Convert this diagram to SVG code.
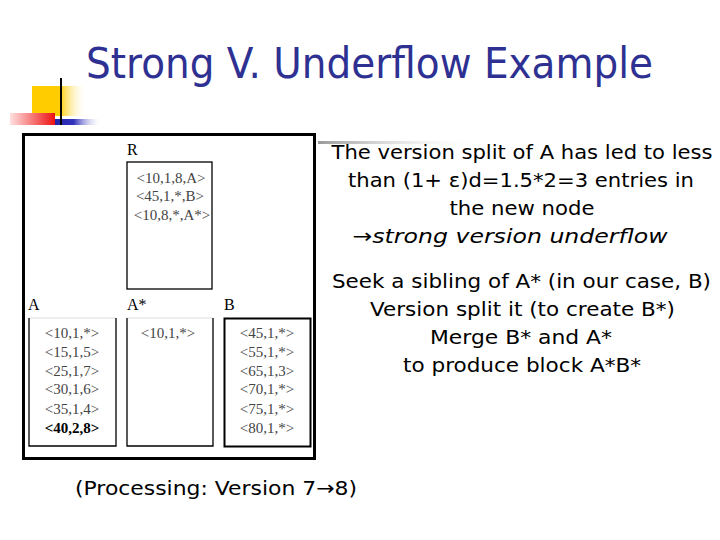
<svg xmlns="http://www.w3.org/2000/svg" width="720" height="540" viewBox="0 0 720 540">
<defs>
  <linearGradient id="gYellow" x1="0" y1="0" x2="1" y2="0">
    <stop offset="0" stop-color="#FFCC00"/>
    <stop offset="0.5" stop-color="#FFCC00"/>
    <stop offset="1" stop-color="#FFFFFF" stop-opacity="0"/>
  </linearGradient>
  <linearGradient id="gRed" x1="0" y1="0" x2="1" y2="0">
    <stop offset="0" stop-color="#FFE0E0"/>
    <stop offset="1" stop-color="#EE1111"/>
  </linearGradient>
  <linearGradient id="gBlue" x1="0" y1="0" x2="1" y2="0">
    <stop offset="0" stop-color="#2222AA"/>
    <stop offset="0.4" stop-color="#3333BB"/>
    <stop offset="1" stop-color="#FFFFFF" stop-opacity="0"/>
  </linearGradient>
  <linearGradient id="gGray" x1="0" y1="0" x2="1" y2="0">
    <stop offset="0" stop-color="#999999"/>
    <stop offset="1" stop-color="#FFFFFF" stop-opacity="0"/>
  </linearGradient>
</defs>
<style>
  .title { font-family: "DejaVu Sans", "Liberation Sans", sans-serif; font-size: 42px; fill: #2E3192; }
  .body { font-family: "DejaVu Sans", "Liberation Sans", sans-serif; font-size: 20px; fill: #000; text-anchor: middle; }
  .ital { font-style: italic; }
  .lbl { font-family: "Liberation Serif", "DejaVu Serif", serif; font-size: 16px; fill: #000; }
  .ent { font-family: "Liberation Serif", "DejaVu Serif", serif; font-size: 15px; fill: #444; text-anchor: middle; }
  .entb { font-weight: bold; fill: #000; }
  .box { fill: none; stroke: #000; stroke-width: 1.3; }
</style>
<rect width="720" height="540" fill="#FFFFFF"/>

<!-- decoration -->
<g id="decoration">
  <rect x="32" y="86" width="55" height="30" fill="url(#gYellow)"/>
  <rect x="10" y="113" width="45" height="12" fill="url(#gRed)"/>
  <rect x="55" y="119" width="47" height="6" fill="url(#gBlue)"/>
  <line x1="61" y1="78" x2="61" y2="125" stroke="#000" stroke-width="2"/>
  <rect x="318" y="141" width="165" height="3" fill="url(#gGray)"/>
</g>

<text class="title" x="86" y="78" textLength="567" lengthAdjust="spacingAndGlyphs">Strong V. Underflow Example</text>

<!-- figure frame -->
<g id="frame">
  <rect x="23.5" y="134.5" width="291" height="324" fill="#FFFFFF" stroke="#000" stroke-width="3"/>
</g>

<g id="node-R">
  <text class="lbl" x="127" y="155">R</text>
  <rect class="box" x="127" y="162" width="85" height="127"/>
  <text class="ent" x="171" y="183">&lt;10,1,8,A&gt;</text>
  <text class="ent" x="170" y="201">&lt;45,1,*,B&gt;</text>
  <text class="ent" x="172" y="220">&lt;10,8,*,A*&gt;</text>
</g>

<g id="node-A">
  <text class="lbl" x="28" y="310">A</text>
  <line x1="29" y1="318" x2="116" y2="318" stroke="#DDDDDD" stroke-width="1"/>
  <path class="box" d="M29,318 V446 H116 V318"/>
  <text class="ent" x="72" y="338">&lt;10,1,*&gt;</text>
  <text class="ent" x="72" y="357">&lt;15,1,5&gt;</text>
  <text class="ent" x="72" y="376">&lt;25,1,7&gt;</text>
  <text class="ent" x="72" y="394">&lt;30,1,6&gt;</text>
  <text class="ent" x="72" y="414">&lt;35,1,4&gt;</text>
  <text class="ent entb" x="72" y="433">&lt;40,2,8&gt;</text>
</g>

<g id="node-Astar">
  <text class="lbl" x="127" y="310">A*</text>
  <line x1="127" y1="318" x2="213" y2="318" stroke="#DDDDDD" stroke-width="1"/>
  <path class="box" d="M127,318 V446 H213 V318"/>
  <text class="ent" x="168" y="338">&lt;10,1,*&gt;</text>
</g>

<g id="node-B">
  <text class="lbl" x="224" y="310">B</text>
  <rect x="224.5" y="318.5" width="86" height="128" fill="none" stroke="#000" stroke-width="2"/>
  <text class="ent" x="267" y="338">&lt;45,1,*&gt;</text>
  <text class="ent" x="267" y="357">&lt;55,1,*&gt;</text>
  <text class="ent" x="267" y="376">&lt;65,1,3&gt;</text>
  <text class="ent" x="267" y="394">&lt;70,1,*&gt;</text>
  <text class="ent" x="267" y="414">&lt;75,1,*&gt;</text>
  <text class="ent" x="267" y="433">&lt;80,1,*&gt;</text>
</g>

<g id="connectors"></g>

<g id="explanation">
  <text class="body" x="522" y="159" textLength="381" lengthAdjust="spacingAndGlyphs">The version split of A has led to less</text>
  <text class="body" x="521" y="187" textLength="346" lengthAdjust="spacingAndGlyphs">than (1+ ε)d=1.5*2=3 entries in</text>
  <text class="body" x="522" y="215" textLength="145" lengthAdjust="spacingAndGlyphs">the new node</text>
  <text class="body ital" x="510" y="243" textLength="315" lengthAdjust="spacingAndGlyphs">→strong version underflow</text>
  <text class="body" x="521.5" y="288" textLength="379" lengthAdjust="spacingAndGlyphs">Seek a sibling of A* (in our case, B)</text>
  <text class="body" x="522.5" y="316" textLength="305" lengthAdjust="spacingAndGlyphs">Version split it (to create B*)</text>
  <text class="body" x="521" y="344" textLength="182" lengthAdjust="spacingAndGlyphs">Merge B* and A*</text>
  <text class="body" x="522" y="372" textLength="238" lengthAdjust="spacingAndGlyphs">to produce block A*B*</text>
</g>

<text class="body" x="216" y="495" textLength="282" lengthAdjust="spacingAndGlyphs">(Processing: Version 7→8)</text>
</svg>
